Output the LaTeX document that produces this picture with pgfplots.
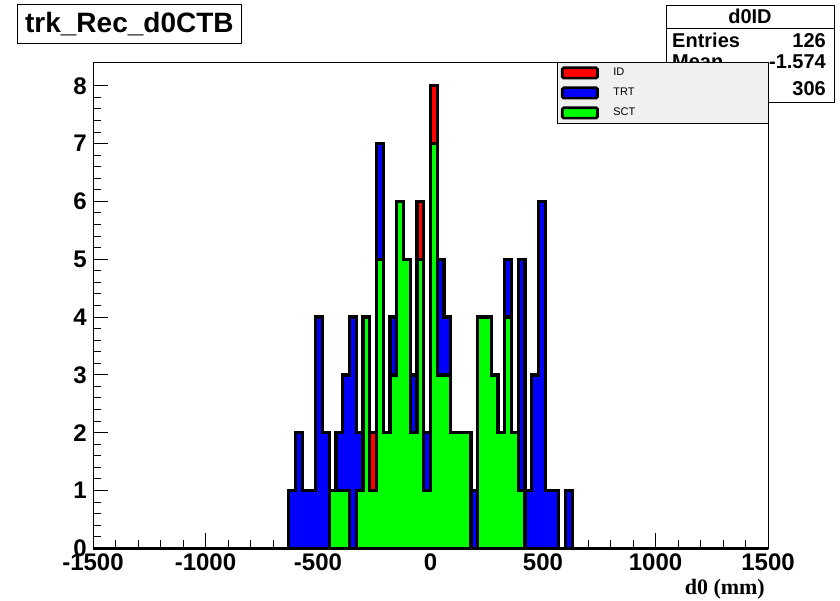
\documentclass[border=0pt]{standalone}
\usepackage{fontspec}
\setmainfont{Liberation Sans}
\newfontfamily\serifbf{Liberation Serif}
\usepackage{pgfplots}
\usepackage{pgfplotstable}
\pgfplotsset{compat=1.18}
\definecolor{legendgray}{RGB}{240,240,240}

% bin left edge, ID (envelope), TRT (visible top), SCT
\pgfplotstableread{
x R B G
-1500 0 0 0
-630 1 1 0
-600 2 2 0
-570 1 1 0
-540 1 1 0
-510 4 4 0
-480 2 2 0
-450 1 1 1
-420 2 2 1
-390 3 3 1
-360 4 4 0
-330 2 2 1
-300 4 4 4
-270 2 1 1
-240 7 7 5
-210 2 2 2
-180 4 4 3
-150 6 6 6
-120 5 5 5
-90 3 3 2
-60 6 5 5
-30 2 2 1
0 8 7 7
30 5 5 3
60 4 4 3
90 2 2 2
120 2 2 2
150 2 2 2
180 1 1 0
210 4 4 4
240 4 4 4
270 3 3 3
300 2 2 2
330 5 5 4
360 2 2 2
390 5 5 1
420 1 1 0
450 3 3 0
480 6 6 0
510 1 1 0
540 1 1 0
570 0 0 0
600 1 1 0
630 0 0 0
1500 0 0 0
}\hist

\begin{document}
\begin{tikzpicture}
\useasboundingbox (0pt,0pt) rectangle (840pt,601pt);
% stats box
\node[draw=black, fill=white, line width=0.8pt, minimum width=168pt, minimum height=97pt, inner sep=0pt, anchor=north west] at (666pt,596.3pt) {};
\draw[line width=0.8pt] (666pt,573pt) -- (834pt,573pt);
\begin{scope}[every node/.style={font=\bfseries\fontsize{20}{20}\selectfont, inner sep=0pt}]
\node at (750pt,584.3pt) {d0ID};
\node[anchor=west] at (672pt,560.2pt) {Entries};
\node[anchor=east] at (826pt,560.2pt) {126};
\node[anchor=west] at (672pt,539.3pt) {Mean};
\node[anchor=east] at (826pt,539.3pt) {-1.574};
\node[anchor=west] at (672pt,512pt) {RMS};
\node[anchor=east] at (826pt,512pt) {306};
\end{scope}
% title box
\node[draw=black, fill=white, line width=0.8pt, minimum width=224pt, minimum height=39pt, inner sep=0pt, anchor=north west, font=\bfseries\fontsize{28}{28}\selectfont] at (17pt,597pt) {trk\_Rec\_d0CTB};

\begin{axis}[
  at={(93pt,52.7pt)}, anchor=south west,
  scale only axis, width=675pt, height=485.6pt,
  xmin=-1500, xmax=1500, ymin=0, ymax=8.4,
  clip=false,
  xtick={-1500,-1000,-500,0,500,1000,1500},
  ytick={0,1,2,3,4,5,6,7,8},
  minor x tick num=4, minor y tick num=4,
  tick pos=left, tick align=inside,
  major tick length=15pt, minor tick length=8pt,
  scaled x ticks=false,
  /pgf/number format/assume math mode=true,
  /pgf/number format/1000 sep={},
  axis line style={line width=1pt},
  every tick/.style={black, line width=1pt},
  xticklabel style={font=\bfseries\fontsize{24}{24}\selectfont, anchor=base, yshift=-22.7pt, inner sep=0pt},
  yticklabel style={font=\bfseries\fontsize{24}{24}\selectfont, anchor=east, xshift=-6pt, inner sep=0pt},
  xlabel={d0 (mm)},
  xlabel style={font=\serifbf\bfseries\fontsize{22}{22}\selectfont, at={(rel axis cs:0.9956,0)}, anchor=base east, yshift=-46pt, inner sep=0pt},
  legend style={at={(rel axis cs:0.6874,1.0014)}, anchor=north west, draw=black, line width=0.8pt, fill=legendgray,
    inner xsep=3.5pt, inner ysep=0.5pt, row sep=0pt,
    font=\fontsize{11}{11}\selectfont,
    nodes={inner sep=0pt, minimum height=20pt},
    /tikz/every odd column/.append style={column sep=14.5pt}},
  legend cell align=left,
  legend image code/.code={\draw[#1, line width=2.7pt, rounded corners=1.5pt] (1.35pt,-5.2pt) rectangle (36.65pt,5.2pt);},
]
\addplot[const plot, fill=red, draw=black, line width=3.3pt] table[x=x, y=R]{\hist} \closedcycle;
\addlegendentry{\makebox[151.5pt][l]{ID}}
\addplot[const plot, fill=blue, draw=black, line width=3.3pt] table[x=x, y=B]{\hist} \closedcycle;
\addlegendentry{\makebox[151.5pt][l]{TRT}}
\addplot[const plot, fill=green, draw=black, line width=3.3pt] table[x=x, y=G]{\hist} \closedcycle;
\addlegendentry{\makebox[151.5pt][l]{SCT}}
\end{axis}
\end{tikzpicture}
\end{document}
